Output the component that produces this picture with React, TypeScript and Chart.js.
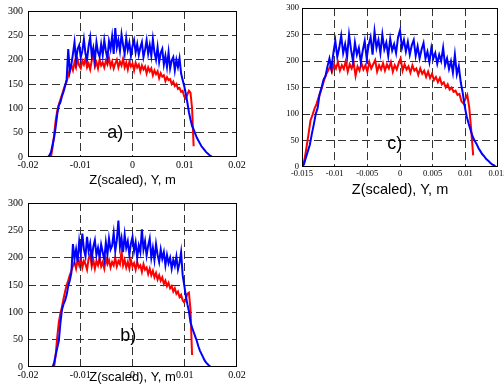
import React, { useEffect, useRef } from "react";
import { Chart, registerables } from "chart.js";

Chart.register(...registerables);

// ---------- data (sample grids: start + step) ----------
const AXIS_TITLE = "Z(scaled), Y, m";
const Y_TICK_STEP = 50;
const Y_MAX = 300;
const STEP = 0.0003;

// Panel a)
const A_BLUE_START = -0.0162;
const A_BLUE = [
  0, 3, 10, 25, 40, 62, 88, 106, 112, 125, 134, 146, 160, 222, 175, 190, 212, 236, 198, 222,
  230, 205, 218, 242, 212, 200, 228, 246, 208, 224, 198, 236, 215, 206, 232, 210, 240, 218, 202, 238,
  222, 248, 212, 265, 225, 240, 218, 252, 230, 212, 244, 220, 235, 208, 228, 240, 215, 232, 210, 225,
  236, 205, 220, 240, 212, 230, 208, 242, 215, 200, 226, 195, 214, 222, 190, 208, 185, 215, 182, 198,
  205, 178, 200, 185, 203, 172, 158, 146, 130, 112, 92, 77, 64, 57, 48, 40, 34, 28, 22, 18,
  14, 10, 7, 4, 2, 0,
];
const A_RED_START = -0.0156;
const A_RED = [
  0, 20, 45, 75, 95, 108, 118, 128, 138, 148, 155, 168, 180, 188, 178, 195, 184, 200, 188, 182,
  198, 190, 202, 184, 192, 180, 198, 212, 186, 195, 182, 200, 188, 194, 184, 198, 190, 204, 186, 196,
  182, 192, 200, 184, 196, 188, 202, 184, 194, 180, 196, 186, 192, 178, 194, 184, 190, 176, 188, 180,
  186, 172, 184, 176, 182, 168, 178, 170, 176, 162, 172, 165, 168, 156, 164, 158, 160, 150, 155, 146,
  150, 140, 142, 134, 136, 124, 120, 128, 136, 132, 100, 22,
];

// Panel b)
const B_BLUE_START = -0.0153;
const B_BLUE = [
  0, 8, 22, 35, 48, 80, 105, 115, 122, 132, 148, 158, 172, 225, 198, 215, 192, 230, 208, 244,
  215, 202, 238, 212, 226, 198, 220, 232, 205, 218, 200, 224, 210, 196, 228, 205, 235, 215, 222, 245,
  212, 232, 268, 220, 236, 210, 242, 218, 230, 205, 226, 238, 212, 228, 200, 222, 210, 252, 215, 230,
  204, 222, 235, 200, 218, 196, 225, 205, 192, 215, 198, 210, 186, 205, 190, 200, 180, 196, 185, 202,
  178, 190, 210, 168, 150, 130, 115, 102, 82, 72, 64, 56, 48, 38, 30, 24, 18, 12, 8, 5,
  2, 0,
];
const B_RED_START = -0.015;
const B_RED = [
  0, 22, 55, 82, 98, 110, 125, 138, 150, 158, 168, 176, 185, 192, 180, 196, 186, 200, 182, 194,
  188, 178, 198, 206, 184, 196, 180, 194, 186, 200, 184, 192, 180, 198, 188, 196, 182, 192, 186, 200,
  184, 194, 188, 212, 186, 196, 182, 192, 180, 196, 184, 190, 178, 192, 182, 186, 174, 188, 178, 182,
  170, 180, 168, 176, 164, 172, 160, 168, 158, 164, 152, 158, 148, 154, 144, 148, 138, 144, 134, 138,
  128, 132, 122, 118, 124, 134, 136, 105, 22,
];

// Panel c)
const C_BLUE_START = -0.015;
const C_BLUE = [
  0, 5, 18, 30, 42, 62, 80, 100, 112, 138, 150, 165, 172, 190, 205, 185, 215, 238, 208, 225,
  248, 215, 232, 208, 250, 222, 200, 235, 212, 225, 198, 220, 238, 205, 230, 245, 212, 256, 225, 240,
  215, 250, 222, 235, 210, 242, 220, 232, 215, 245, 258, 225, 240, 218, 236, 212, 230, 240, 210, 228,
  205, 222, 234, 205, 218, 198, 225, 205, 215, 195, 212, 200, 225, 192, 205, 185, 200, 178, 212, 175,
  190, 160, 140, 115, 96, 82, 70, 58, 50, 44, 36, 30, 24, 20, 15, 12, 8, 5, 3, 0,
];
const C_RED_START = -0.0149;
const C_RED = [
  0, 15, 38, 62, 88, 98, 110, 118, 130, 140, 152, 165, 175, 182, 190, 180, 194, 186, 198, 182,
  192, 185, 200, 180, 194, 186, 198, 172, 190, 182, 196, 184, 192, 180, 198, 186, 194, 202, 180, 192,
  184, 196, 182, 194, 186, 198, 180, 192, 184, 196, 205, 182, 194, 184, 190, 178, 192, 182, 186, 174,
  186, 176, 182, 170, 180, 168, 176, 164, 170, 160, 168, 156, 160, 150, 156, 146, 150, 142, 144, 136,
  138, 124, 120, 128, 136, 112, 70, 22,
];

type Pt = { x: number; y: number };
function toPoints(start: number, step: number, values: number[]): Pt[] {
  return values.map((y, i) => ({ x: Math.round((start + i * step) * 1e6) / 1e6, y }));
}

type PanelProps = {
  left: number;
  top: number;
  width: number;
  height: number;
  padTop: number;
  padRight: number;
  yWidth: number;
  xHeight: number;
  xMin: number;
  xMax: number;
  xStep: number;
  tickSize: number;
  yTickPad: number;
  titleSize: number;
  titlePadBottom: number;
  label: string;
  labelX: number;
  labelY: number;
  blue: Pt[];
  red: Pt[];
};

const SERIF = '"Liberation Serif", "Times New Roman", serif';
const SANS = '"Liberation Sans", Arial, sans-serif';

function Panel(p: PanelProps) {
  const ref = useRef<HTMLCanvasElement>(null);
  useEffect(() => {
    const canvas = ref.current!;
    const framePlugin = {
      id: "frameAndLabel",
      afterDatasetsDraw(chart: any) {
        const { ctx, chartArea: a } = chart;
        ctx.save();
        ctx.strokeStyle = "#000";
        ctx.lineWidth = 1;
        ctx.setLineDash([]);
        ctx.strokeRect(
          Math.round(a.left) + 0.5,
          Math.round(a.top) + 0.5,
          Math.round(a.right - a.left) - 1,
          Math.round(a.bottom - a.top) - 1
        );
        const xs = chart.scales.x;
        const ys = chart.scales.y;
        ctx.fillStyle = "#000";
        ctx.font = `18px ${SANS}`;
        ctx.textAlign = "center";
        ctx.textBaseline = "middle";
        ctx.fillText(p.label, xs.getPixelForValue(p.labelX), ys.getPixelForValue(p.labelY));
        ctx.restore();
      },
    };
    const gridColor = (c: any) => {
      const s = c.scale;
      const v = c.tick ? c.tick.value : NaN;
      const span = Math.abs(s.max - s.min);
      if (Math.abs(v - s.min) < span * 1e-6 || Math.abs(v - s.max) < span * 1e-6) return "rgba(0,0,0,0)";
      return "#333";
    };
    const fmtX = (v: any) => {
      const n = Math.round(Number(v) * 1e4) / 1e4;
      return n === 0 ? "0" : String(n);
    };
    const chart = new Chart(canvas, {
      type: "line",
      data: {
        datasets: [
          { data: p.blue, borderColor: "#0000ff", borderWidth: 2, pointRadius: 0, fill: false, tension: 0 },
          { data: p.red, borderColor: "#ff0000", borderWidth: 2, pointRadius: 0, fill: false, tension: 0 },
        ],
      },
      options: {
        animation: false,
        responsive: false,
        events: [],
        layout: { padding: { top: p.padTop, right: p.padRight, left: 0, bottom: 0 } },
        plugins: { legend: { display: false }, tooltip: { enabled: false } },
        scales: {
          x: {
            type: "linear",
            min: p.xMin,
            max: p.xMax,
            ticks: {
              stepSize: p.xStep,
              callback: fmtX,
              color: "#000",
              font: { family: SERIF, size: p.tickSize },
              padding: 2,
              maxRotation: 0,
              autoSkip: false,
            },
            grid: { color: gridColor, drawTicks: false, lineWidth: 1 },
            border: { display: false, dash: [8, 4] },
            title: {
              display: true,
              text: AXIS_TITLE,
              color: "#000",
              font: { family: SANS, size: p.titleSize },
              padding: { top: 0, bottom: p.titlePadBottom },
            },
            afterFit: (s: any) => {
              s.height = p.xHeight;
            },
          },
          y: {
            type: "linear",
            min: 0,
            max: Y_MAX,
            ticks: {
              stepSize: Y_TICK_STEP,
              color: "#000",
              font: { family: SERIF, size: p.tickSize },
              padding: p.yTickPad,
            },
            grid: { color: gridColor, drawTicks: false, lineWidth: 1 },
            border: { display: false, dash: [8, 4] },
            afterFit: (s: any) => {
              s.width = p.yWidth;
            },
          },
        },
      } as any,
      plugins: [framePlugin],
    });
    return () => chart.destroy();
  }, []);
  return (
    <canvas
      ref={ref}
      width={p.width}
      height={p.height}
      style={{ position: "absolute", left: p.left, top: p.top, width: p.width, height: p.height }}
    />
  );
}

export default function App() {
  return (
    <div
      style={{
        position: "absolute",
        left: 0,
        top: 0,
        width: 504,
        height: 387,
        overflow: "hidden",
        background: "#fff",
      }}
    >
      <Panel
        left={0}
        top={0}
        width={252}
        height={190}
        padTop={9}
        padRight={15}
        yWidth={28}
        xHeight={33}
        xMin={-0.02}
        xMax={0.02}
        xStep={0.01}
        tickSize={10}
        yTickPad={5}
        titleSize={13}
        titlePadBottom={2}
        label="a)"
        labelX={-0.0033}
        labelY={49}
        blue={toPoints(A_BLUE_START, STEP, A_BLUE)}
        red={toPoints(A_RED_START, STEP, A_RED)}
      />
      <Panel
        left={0}
        top={190}
        width={252}
        height={197}
        padTop={13}
        padRight={15}
        yWidth={28}
        xHeight={20}
        xMin={-0.02}
        xMax={0.02}
        xStep={0.01}
        tickSize={10}
        yTickPad={5}
        titleSize={13}
        titlePadBottom={2}
        label="b)"
        labelX={-0.0008}
        labelY={57}
        blue={toPoints(B_BLUE_START, STEP, B_BLUE)}
        red={toPoints(B_RED_START, STEP, B_RED)}
      />
      <Panel
        left={258}
        top={0}
        width={254}
        height={202}
        padTop={7}
        padRight={14}
        yWidth={44}
        xHeight={35}
        xMin={-0.015}
        xMax={0.015}
        xStep={0.005}
        tickSize={8.5}
        yTickPad={3}
        titleSize={14.5}
        titlePadBottom={3}
        label="c)"
        labelX={-0.0008}
        labelY={43}
        blue={toPoints(C_BLUE_START, STEP, C_BLUE)}
        red={toPoints(C_RED_START, STEP, C_RED)}
      />
    </div>
  );
}
